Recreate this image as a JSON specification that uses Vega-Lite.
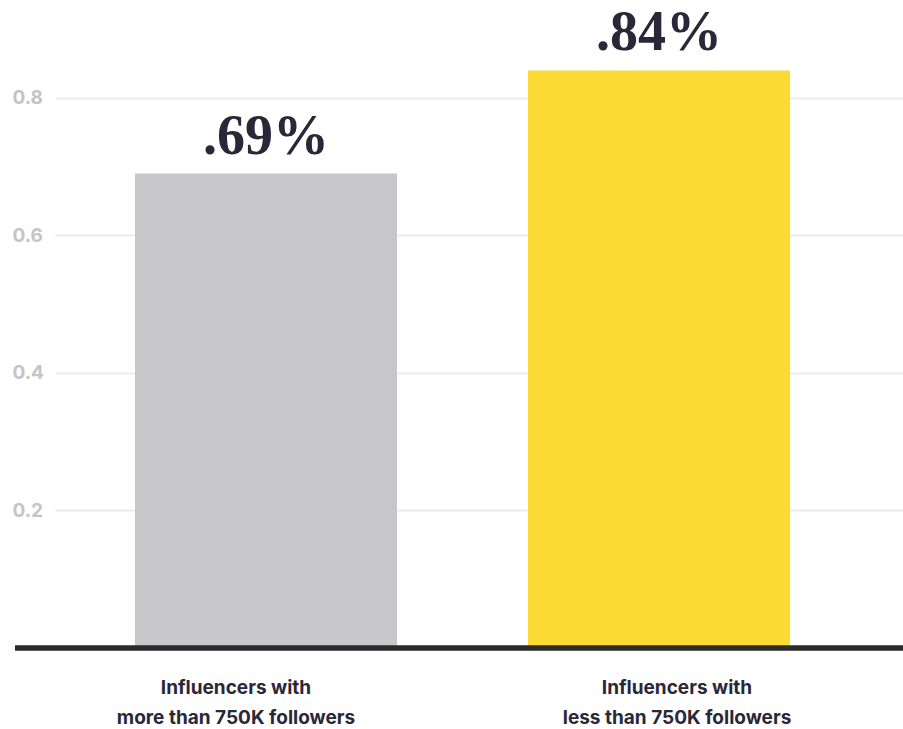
{
  "$schema": "https://vega.github.io/schema/vega-lite/v6.json",
  "width": 888,
  "height": 648,
  "autosize": {"type": "none"},
  "padding": {"left": 15, "top": 0, "right": 0, "bottom": 81},
  "background": "#ffffff",
  "config": {"view": {"stroke": null}},
  "data": {
    "values": [
      {"group": "Influencers with more than 750K followers", "rate": 0.69, "label": ".69%", "color": "#c7c6cb"},
      {"group": "Influencers with less than 750K followers", "rate": 0.84, "label": ".84%", "color": "#fddb35"}
    ]
  },
  "encoding": {
    "x": {
      "field": "group",
      "type": "nominal",
      "sort": null,
      "scale": {"range": [40, 888], "paddingInner": 0.3333, "paddingOuter": 0.2455, "align": 0.4145},
      "axis": {
        "title": null,
        "domain": false,
        "ticks": false,
        "labelAngle": 0,
        "labelLimit": 500,
        "labelExpr": "['Influencers with', replace(datum.value, 'Influencers with ', '')]",
        "labelFont": "Inter",
        "labelFontSize": 19,
        "labelFontWeight": "bold",
        "labelColor": "#2a2838",
        "labelLineHeight": 30,
        "labelBaseline": "top",
        "labelPadding": 30,
        "labelOffset": {"condition": {"test": "indexof(datum.value, 'more') >= 0", "value": -30}, "value": 18}
      }
    },
    "y": {
      "field": "rate",
      "type": "quantitative",
      "scale": {"domain": [0, 0.9425], "nice": false},
      "axis": {
        "title": null,
        "domain": false,
        "ticks": false,
        "values": [0.2, 0.4, 0.6, 0.8],
        "format": ".1f",
        "labelAlign": "left",
        "labelPadding": 3,
        "labelFont": "Inter",
        "labelFontSize": 19,
        "labelFontWeight": "bold",
        "labelColor": "#c4c4c6",
        "grid": true,
        "gridColor": "#ececec",
        "gridWidth": 2
      }
    }
  },
  "layer": [
    {
      "mark": {"type": "bar"},
      "encoding": {
        "color": {"field": "color", "type": "nominal", "scale": null, "legend": null}
      }
    },
    {
      "mark": {"type": "text", "font": "Liberation Serif", "fontWeight": "bold", "fontSize": 56, "baseline": "alphabetic", "dy": -20, "color": "#2a2838"},
      "encoding": {"text": {"field": "label"}}
    },
    {
      "mark": {"type": "rule", "color": "#2b2b2b", "strokeWidth": 5},
      "encoding": {"x": null, "y": {"datum": 0}}
    }
  ]
}
